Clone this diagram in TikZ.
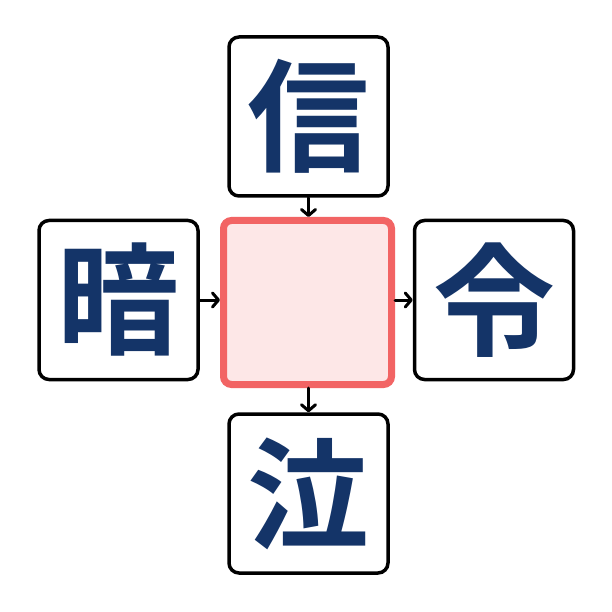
\documentclass[tikz,border=0pt]{standalone}
\usepackage{fontspec}
\newfontfamily\cjk{Noto Sans CJK JP Bold}
\usetikzlibrary{arrows.meta}
\definecolor{navy}{HTML}{143468}
\definecolor{pinkfill}{HTML}{FDE7E7}
\definecolor{redline}{HTML}{F26464}
\tikzset{
  charbox/.style={draw=black, line width=3.5pt, rounded corners=10pt, fill=white,
    minimum width=159pt, minimum height=159pt, inner sep=0pt,
    font=\cjk\fontsize{122}{122}\selectfont, text=navy},
  centerbox/.style={draw=redline, fill=pinkfill, line width=7pt, rounded corners=8pt,
    minimum width=168pt, minimum height=164pt, inner sep=0pt},
  link/.style={line width=3pt, line cap=round, -{Straight Barb[length=6pt,width=14pt,line width=3pt,round]}}
}
\begin{document}
\begin{tikzpicture}[x=1pt,y=1pt]
\useasboundingbox[fill=white] (0,0) rectangle (612,611);
\node[charbox] (top) at (308.5,494.5) {信};
\node[charbox] (left) at (118.5,311) {暗};
\node[charbox] (right) at (494,311) {令};
\node[charbox] (bottom) at (308.5,117.5) {泣};
\node[centerbox] (c) at (307.5,308.5) {};
\draw[link] (top.south) -- (top.south |- c.north);
\draw[link] (left.east) -- (c.west |- left.east);
\draw[link] (c.east |- right.west) -- (right.west);
\draw[link] (c.south -| bottom.north) -- (bottom.north);
\end{tikzpicture}
\end{document}
